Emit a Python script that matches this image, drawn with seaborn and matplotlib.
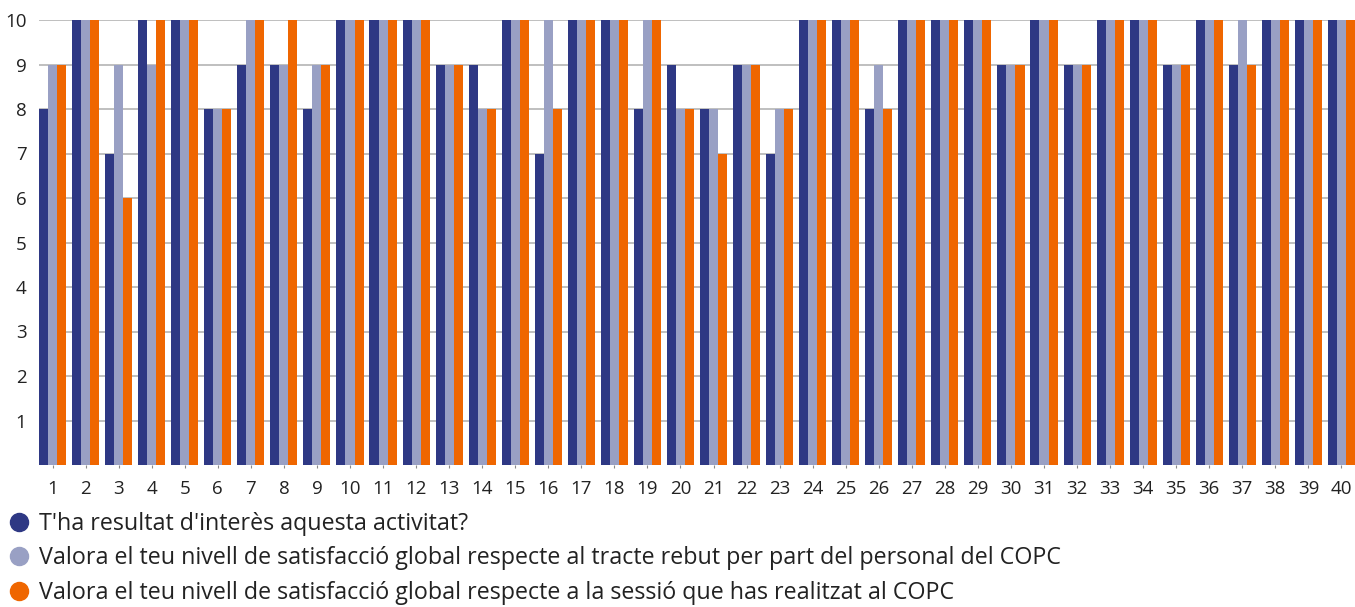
import matplotlib
matplotlib.use("Agg")
import matplotlib.pyplot as plt
from matplotlib.lines import Line2D
import seaborn as sns
import pandas as pd

categories = [str(i) for i in range(1, 41)]
series_names = [
    "T'ha resultat d'interès aquesta activitat?",
    "Valora el teu nivell de satisfacció global respecte al tracte rebut per part del personal del COPC",
    "Valora el teu nivell de satisfacció global respecte a la sessió que has realitzat al COPC",
]
interes = [8, 10, 7, 10, 10, 8, 9, 9, 8, 10, 10, 10, 9, 9, 10, 7, 10, 10, 8, 9,
           8, 9, 7, 10, 10, 8, 10, 10, 10, 9, 10, 9, 10, 10, 9, 10, 9, 10, 10, 10]
tracte = [9, 10, 9, 9, 10, 8, 10, 9, 9, 10, 10, 10, 9, 8, 10, 10, 10, 10, 10, 8,
          8, 9, 8, 10, 10, 9, 10, 10, 10, 9, 10, 9, 10, 10, 9, 10, 10, 10, 10, 10]
sessio = [9, 10, 6, 10, 10, 8, 10, 10, 9, 10, 10, 10, 9, 8, 10, 8, 10, 10, 10, 8,
          7, 9, 8, 10, 10, 8, 10, 10, 10, 9, 10, 9, 10, 10, 9, 10, 9, 10, 10, 10]
yticks = [1, 2, 3, 4, 5, 6, 7, 8, 9, 10]
colors = ["#2e3884", "#99a0c4", "#ef6600"]

rows = []
for name, vals in zip(series_names, [interes, tracte, sessio]):
    for c, v in zip(categories, vals):
        rows.append({"cat": c, "serie": name, "val": v})
df = pd.DataFrame(rows)

sns.set_theme(style="white")
plt.rcParams["font.family"] = ["Open Sans", "DejaVu Sans"]

fig = plt.figure(figsize=(13.55, 6.07), dpi=100)
ax = fig.add_axes([39 / 1355, 142 / 607, 1 - 39 / 1355, 445 / 607])
ax.set_axisbelow(True)
sns.barplot(data=df, x="cat", y="val", hue="serie", order=categories,
            hue_order=series_names, palette=colors, width=0.82, gap=0,
            saturation=1, ax=ax, legend=False, linewidth=0, errorbar=None)

ax.set_xlim(-0.41, 39.41)
ax.set_ylim(0, 10)
ax.set_yticks(yticks)
ax.set_yticklabels([str(t) for t in yticks])
ax.yaxis.grid(True, color="#b4b4b4", linewidth=1.2)
ax.xaxis.grid(False)
for s in ax.spines.values():
    s.set_visible(False)
ax.set_xlabel("")
ax.set_ylabel("")
ax.tick_params(axis="y", length=0, pad=9, labelsize=13.5, labelcolor="#222222")
ax.tick_params(axis="x", length=2.5, width=0.8, color="#888888", pad=8,
               labelsize=13.5, labelcolor="#222222", bottom=True)

handles = [Line2D([0], [0], marker="o", linestyle="none", markersize=13,
                  markerfacecolor=c, markeredgecolor=c) for c in colors]
fig.legend(handles, series_names, loc="upper left",
           bbox_to_anchor=(7 / 1355, 1 - 512 / 607), frameon=False,
           fontsize=16.75, handletextpad=0.37, handlelength=1.0,
           labelspacing=0.45, borderpad=0, borderaxespad=0,
           labelcolor="#222222")

fig.savefig("out.png", dpi=100)
